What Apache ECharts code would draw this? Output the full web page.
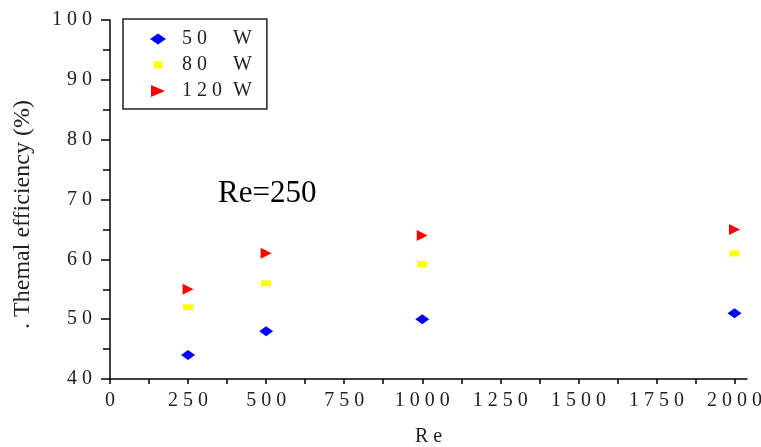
<!DOCTYPE html>
<html>
<head>
<meta charset="utf-8">
<script src="https://cdn.jsdelivr.net/npm/echarts@6/dist/echarts.min.js"></script>
<style>html,body{margin:0;padding:0;background:#fff}#c{width:761px;height:447px}</style>
</head>
<body>
<div id="c"></div>
<script>
const reValues = [250, 500, 1000, 2000];
const eff50 = [44, 48, 50, 51];
const eff80 = [52, 56, 59.2, 61];
const eff120 = [55, 61, 64, 65];
const seriesNames = ['50 W', '80 W', '120 W'];
const xTickLabels = [0, 250, 500, 750, 1000, 1250, 1500, 1750, 2000];
const xTickMarks = [0, 125, 250, 375, 500, 625, 750, 875, 1000, 1125, 1250, 1375, 1500, 1625, 1750, 1875, 2000];
const annotation = 'Re=250';

const serif = '"Liberation Serif", "Times New Roman", serif';
const spaced = v => String(v).split('').join(' ');
const pairs = vals => reValues.map((x, i) => [x, vals[i]]);

const chart = echarts.init(document.getElementById('c'), null, {renderer: 'canvas'});
chart.setOption({
  animation: false,
  backgroundColor: '#fff',
  grid: {left: 110, right: 14, top: 20, bottom: 68, containLabel: false, outerBoundsMode: 'none'},
  xAxis: {
    type: 'value', min: 0, max: 2040,
    name: 'R e', nameLocation: 'middle', nameGap: 48,
    nameTextStyle: {fontFamily: serif, fontSize: 20, color: '#222'},
    axisLine: {show: true, onZero: false, lineStyle: {color: '#000', width: 1.5}},
    axisTick: {show: true, inside: false, length: 5, customValues: xTickMarks, lineStyle: {color: '#000', width: 1.5}},
    axisLabel: {customValues: xTickLabels, margin: 12, fontFamily: serif, fontSize: 20, color: '#222', formatter: v => spaced(v)},
    splitLine: {show: false}
  },
  yAxis: {
    type: 'value', min: 40, max: 100, interval: 10,
    name: '. Themal efficiency (%)', nameLocation: 'middle', nameGap: 75, nameRotate: 90,
    nameTextStyle: {fontFamily: serif, fontSize: 24, color: '#222', padding: [0, 30, 0, 0]},
    axisLine: {show: true, onZero: false, lineStyle: {color: '#000', width: 1.5}},
    axisTick: {show: true, inside: false, length: 9, lineStyle: {color: '#000', width: 1.5}},
    minorTick: {show: true, splitNumber: 2, length: 7, lineStyle: {color: '#000', width: 1.5}},
    axisLabel: {margin: 18, fontFamily: serif, fontSize: 20, color: '#222', formatter: v => spaced(v)},
    splitLine: {show: false}
  },
  legend: {
    orient: 'vertical', left: 123, top: 19,
    padding: [10, 15, 8, 27],
    itemWidth: 16, itemHeight: 12, itemGap: 6,
    backgroundColor: '#fff', borderColor: '#222', borderWidth: 1.5,
    data: [
      {name: seriesNames[0], icon: 'path://M0,6L8,0.5L16,6L8,11.5Z'},
      {name: seriesNames[1], icon: 'path://M0,0M16,12M3.5,2.5L12.5,2.5L12.5,9.5L3.5,9.5Z'},
      {name: seriesNames[2], icon: 'path://M1,0L15,6L1,12Z'}
    ],
    formatter: name => {
      const parts = name.split(' ');
      return '{g|}{n|' + spaced(parts[0]) + '}{w|' + parts[1] + '}';
    },
    textStyle: {
      fontFamily: serif, fontSize: 20, color: '#222', lineHeight: 20,
      rich: {
        g: {width: 11, fontFamily: serif, fontSize: 20},
        n: {width: 51, fontFamily: serif, fontSize: 20, color: '#222'},
        w: {fontFamily: serif, fontSize: 20, color: '#222'}
      }
    }
  },
  graphic: [{
    type: 'text', left: 218, top: 178,
    style: {text: annotation, font: '31px ' + serif, fill: '#000'}
  }],
  series: [
    {name: seriesNames[0], type: 'scatter', data: pairs(eff50), symbol: 'diamond', symbolSize: [14, 10], itemStyle: {color: '#0000ff', opacity: 1}},
    {name: seriesNames[1], type: 'scatter', data: pairs(eff80), symbol: 'rect', symbolSize: [10, 6], itemStyle: {color: '#ffff00', opacity: 1}},
    {name: seriesNames[2], type: 'scatter', data: pairs(eff120), symbol: 'path://M0,0L10,5L0,10Z', symbolSize: [11, 11], itemStyle: {color: '#ff0000', opacity: 1}}
  ]
});
</script>
</body>
</html>
